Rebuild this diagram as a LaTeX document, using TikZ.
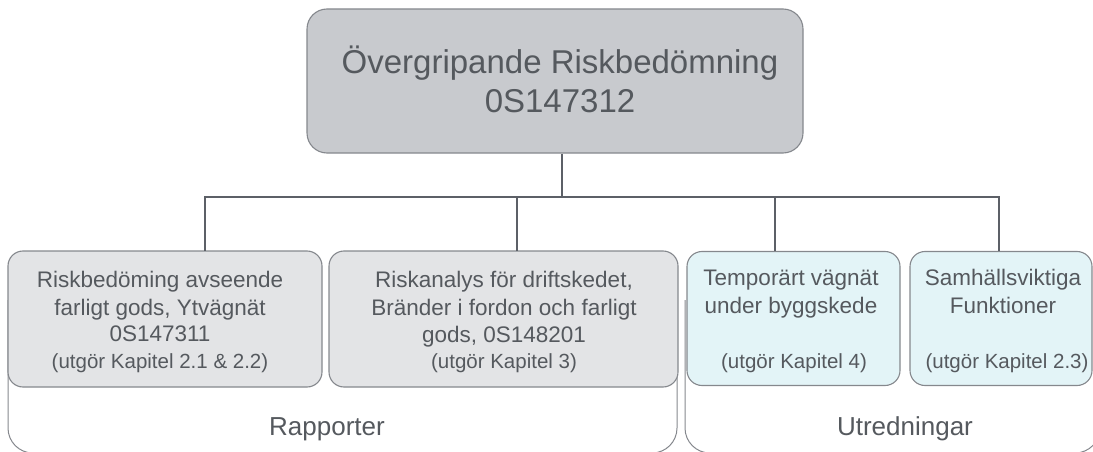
\documentclass[tikz,border=0pt]{standalone}
\usepackage{fontspec}
\setmainfont{Liberation Sans}
\definecolor{txt}{HTML}{55595E}
\definecolor{conn}{HTML}{5C6067}
\definecolor{bord}{HTML}{85888D}
\definecolor{topfill}{HTML}{C8CACE}
\definecolor{grayfill}{HTML}{E3E4E6}
\definecolor{cyanfill}{HTML}{E3F4F7}
\tikzset{
  boxbase/.style={draw=bord, line width=1.1pt, rounded corners=15pt, inner sep=0pt},
  topbox/.style={boxbase, fill=topfill, rounded corners=20pt},
  graybox/.style={boxbase, fill=grayfill},
  cyanbox/.style={boxbase, fill=cyanfill},
  bracket/.style={draw=bord, line width=1pt, rounded corners=25pt},
  conline/.style={draw=conn, line width=2.6pt},
  bigtxt/.style={text=txt, inner sep=0pt, font=\fontsize{33}{38}\selectfont},
  maintxt/.style={text=txt, inner sep=0pt, anchor=base, font=\fontsize{22.5}{27}\selectfont},
  smalltxt/.style={text=txt, inner sep=0pt, anchor=base, font=\fontsize{20.5}{24}\selectfont},
  grouptxt/.style={text=txt, inner sep=0pt, anchor=base, font=\fontsize{26}{30}\selectfont},
}
\begin{document}
\begin{tikzpicture}[x=1pt,y=-1pt]
\useasboundingbox (0,0) rectangle (1093,452);
% group brackets (open at the top, hidden behind the boxes)
\coordinate (g1a) at (8,300);
\coordinate (g1b) at (677,300);
\coordinate (g2a) at (685,300);
\coordinate (g2b) at (1100,300);
\draw[bracket] (g1a) -- (8,453) -- (677,453) -- (g1b);
\draw[bracket] (g2a) -- (685,453) -- (1100,453) -- (g2b);
\node[grouptxt] (rap) at (327,435) {Rapporter};
\node[grouptxt] (utr) at (905,435) {Utredningar};
% top box
\node[topbox, minimum width=496pt, minimum height=144pt] (top) at (555,81) {};
\node[bigtxt, anchor=base] (topa) at (560,74) {Övergripande Riskbedömning};
\node[bigtxt, anchor=base] (topb) at (560,112) {0S147312};
% child boxes
\node[graybox, minimum width=314pt, minimum height=136pt] (b1) at (165,319) {};
\node[graybox, minimum width=349pt, minimum height=136pt] (b2) at (503.5,319) {};
\node[cyanbox, minimum width=213pt, minimum height=134pt] (b3) at (793.5,318.5) {};
\node[cyanbox, minimum width=182pt, minimum height=134pt] (b4) at (1001,318.5) {};
% connectors
\coordinate (bar) at (562,197);
\coordinate (d1) at (205,251);
\coordinate (d2) at (517,251);
\coordinate (d3) at (775,251);
\coordinate (d4) at (999,251);
\draw[conline] (bar |- top.south) -- (bar);
\draw[conline] (bar) -| (d1);
\draw[conline] (bar) -| (d4);
\draw[conline] (bar -| d2) -- (d2);
\draw[conline] (bar -| d3) -- (d3);
% texts box 1
\node[maintxt] (t1a) at (160,287) {Riskbedöming avseende};
\node[maintxt] (t1b) at (160,315) {farligt gods, Ytvägnät};
\node[maintxt] (t1c) at (160,341) {0S147311};
\node[smalltxt] (t1d) at (160,368) {(utgör Kapitel 2.1 \& 2.2)};
% texts box 2
\node[maintxt] (t2a) at (504,287) {Riskanalys för driftskedet,};
\node[maintxt] (t2b) at (504,315) {Bränder i fordon och farligt};
\node[maintxt] (t2c) at (504,342) {gods, 0S148201};
\node[smalltxt] (t2d) at (504,368) {(utgör Kapitel 3)};
% texts box 3
\node[maintxt] (t3a) at (791,285) {Temporärt vägnät};
\node[maintxt] (t3b) at (791,313) {under byggskede};
\node[smalltxt] (t3c) at (794,368) {(utgör Kapitel 4)};
% texts box 4
\node[maintxt] (t4a) at (1003,285) {Samhällsviktiga};
\node[maintxt] (t4b) at (1003,313) {Funktioner};
\node[smalltxt] (t4c) at (1007,368) {(utgör Kapitel 2.3)};
\end{tikzpicture}
\end{document}
